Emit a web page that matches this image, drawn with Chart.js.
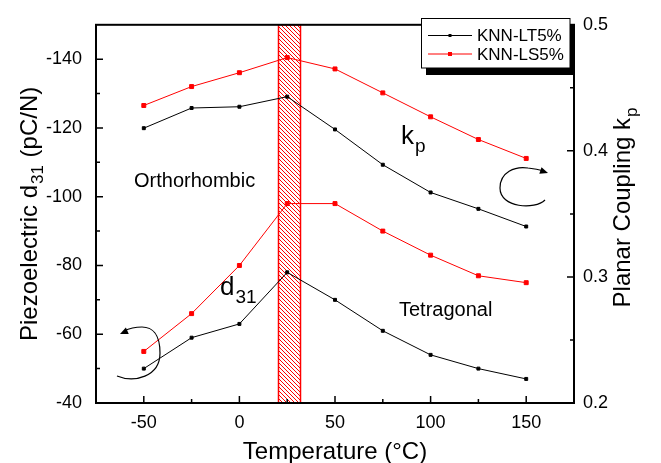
<!DOCTYPE html>
<html>
<head>
<meta charset="utf-8">
<script src="https://cdn.jsdelivr.net/npm/chart.js@4.4.1/dist/chart.umd.min.js"></script>
<style>
  html, body { margin: 0; padding: 0; background: #fff; }
  #c { display: block; }
</style>
</head>
<body>
<canvas id="c" width="661" height="463"></canvas>
<script>
// data
const temps = [-50, -25, 0, 25, 50, 75, 100, 125, 150];
const d31LT = [-50, -59, -63, -78, -70, -61, -54, -50, -47];
const d31LS = [-55, -66, -80, -98, -98, -90, -83, -77, -75];
const kpLT = [0.418, 0.434, 0.435, 0.443, 0.417, 0.389, 0.367, 0.354, 0.340];
const kpLS = [0.436, 0.451, 0.462, 0.474, 0.465, 0.446, 0.427, 0.409, 0.394];
const seriesNames = ['KNN-LT5%', 'KNN-LS5%'];
const seriesColors = ['#000000', '#ff0000'];

// axes
const xTicks = [-50, 0, 50, 100, 150];
const xMinor = [-25, 25, 75, 125];
const leftTicks = [-140, -120, -100, -80, -60, -40];
const leftMinor = [-130, -110, -90, -70, -50];
const rightTicks = [0.2, 0.3, 0.4, 0.5];
const rightMinor = [0.25, 0.35, 0.45];
const bandRange = [20, 32]; // phase transition region

const FONT = '"Liberation Sans", Arial, Helvetica, sans-serif';

const pts = (ys) => temps.map((t, i) => ({ x: t, y: ys[i] }));

function mkSet(label, ys, color, axis, r) {
    return {
        label: label,
        data: pts(ys),
        yAxisID: axis,
        borderColor: color,
        backgroundColor: color,
        borderWidth: 1,
        pointStyle: 'rect',
        pointRadius: r,
        pointHoverRadius: r,
        tension: 0
    };
}

// small tile for the red hatching
function hatchPattern(ctx) {
    const t = document.createElement('canvas');
    t.width = 4; t.height = 4;
    const tc = t.getContext('2d');
    tc.fillStyle = '#ff0000';
    for (let i = 0; i < 4; i++) tc.fillRect(i, i, 1, 1);
    return ctx.createPattern(t, 'repeat');
}

// subscript text helper
function subText(ctx, x, y, main, sub, size, subSize, align) {
    ctx.font = size + 'px ' + FONT;
    const w1 = ctx.measureText(main).width;
    ctx.font = subSize + 'px ' + FONT;
    const w2 = ctx.measureText(sub).width;
    let x0 = x;
    if (align === 'center') x0 = x - (w1 + w2) / 2;
    ctx.textAlign = 'left';
    ctx.textBaseline = 'alphabetic';
    ctx.font = size + 'px ' + FONT;
    ctx.fillText(main, x0, y);
    ctx.font = subSize + 'px ' + FONT;
    ctx.fillText(sub, x0 + w1 + 1, y + size * 0.3);
    return w1 + w2;
}

function arrowHead(ctx, x, y, dx, dy) {
    const len = Math.hypot(dx, dy);
    const ux = dx / len, uy = dy / len;
    const L = 8, W = 3.5;
    ctx.beginPath();
    ctx.moveTo(x, y);
    ctx.lineTo(x - ux * L - uy * W, y - uy * L + ux * W);
    ctx.lineTo(x - ux * L + uy * W, y - uy * L - ux * W);
    ctx.closePath();
    ctx.fill();
}

const decorations = {
    id: 'decorations',
    beforeDatasetsDraw(chart) {
        const ctx = chart.ctx;
        const a = chart.chartArea;
        const xs = chart.scales.x;
        const x1 = Math.round(xs.getPixelForValue(bandRange[0]));
        const x2 = Math.round(xs.getPixelForValue(bandRange[1]));
        ctx.save();
        ctx.fillStyle = hatchPattern(ctx);
        ctx.fillRect(x1, a.top, x2 - x1, a.bottom - a.top);
        ctx.strokeStyle = '#ff0000';
        ctx.lineWidth = 1.5;
        ctx.strokeRect(x1 + 0.5, a.top, x2 - x1 - 1, a.bottom - a.top);
        ctx.restore();
    },
    afterDatasetsDraw(chart) {
        const ctx = chart.ctx;
        const a = chart.chartArea;
        const xs = chart.scales.x, yl = chart.scales.y, yr = chart.scales.y1;
        ctx.save();

        // frame
        ctx.strokeStyle = '#000';
        ctx.lineWidth = 2;
        ctx.strokeRect(a.left, a.top, a.right - a.left, a.bottom - a.top);

        // inward ticks
        ctx.lineWidth = 1.5;
        ctx.beginPath();
        xTicks.forEach(v => { const p = xs.getPixelForValue(v); ctx.moveTo(p, a.bottom); ctx.lineTo(p, a.bottom - 7); });
        xMinor.forEach(v => { const p = xs.getPixelForValue(v); ctx.moveTo(p, a.bottom); ctx.lineTo(p, a.bottom - 4); });
        leftTicks.forEach(v => { const p = yl.getPixelForValue(v); ctx.moveTo(a.left, p); ctx.lineTo(a.left + 7, p); });
        leftMinor.forEach(v => { const p = yl.getPixelForValue(v); ctx.moveTo(a.left, p); ctx.lineTo(a.left + 4, p); });
        rightTicks.forEach(v => { const p = yr.getPixelForValue(v); ctx.moveTo(a.right, p); ctx.lineTo(a.right - 7, p); });
        rightMinor.forEach(v => { const p = yr.getPixelForValue(v); ctx.moveTo(a.right, p); ctx.lineTo(a.right - 4, p); });
        ctx.stroke();

        // annotations
        ctx.fillStyle = '#000';
        ctx.font = '20px ' + FONT;
        ctx.textAlign = 'left';
        ctx.textBaseline = 'alphabetic';
        ctx.fillText('Orthorhombic', 134, 187);
        ctx.fillText('Tetragonal', 399, 316);
        subText(ctx, 401, 144, 'k', 'p', 26, 19, 'left');
        subText(ctx, 220, 295, 'd', '31', 26, 19, 'left');

        // curved arrows
        ctx.lineWidth = 1.2;
        ctx.beginPath();
        ctx.moveTo(117, 376);
        ctx.bezierCurveTo(134, 383, 160, 377, 160, 353);
        ctx.bezierCurveTo(160, 334, 152, 327, 142, 327);
        ctx.quadraticCurveTo(132, 327, 124, 331);
        ctx.stroke();
        arrowHead(ctx, 120, 334, -9, 4);

        ctx.beginPath();
        ctx.moveTo(545, 200);
        ctx.bezierCurveTo(535, 210, 500, 208, 500, 188);
        ctx.bezierCurveTo(500, 172, 515, 166, 528, 168);
        ctx.quadraticCurveTo(537, 169, 544, 171);
        ctx.stroke();
        arrowHead(ctx, 548, 173, 9, 3);

        // legend with drop shadow
        ctx.fillStyle = '#000';
        ctx.fillRect(426, 24, 148, 51);
        ctx.fillStyle = '#fff';
        ctx.fillRect(421.5, 18.5, 148.5, 49.5);
        ctx.lineWidth = 1;
        ctx.strokeStyle = '#000';
        ctx.strokeRect(421.5, 18.5, 148.5, 49.5);
        ctx.font = '17px ' + FONT;
        ctx.textBaseline = 'middle';
        chart.data.datasets.slice(0, 2).forEach((ds, i) => {
            const y = 35.5 + i * 18.5;
            ctx.strokeStyle = ds.borderColor;
            ctx.fillStyle = ds.borderColor;
            ctx.beginPath();
            ctx.moveTo(428, y);
            ctx.lineTo(472, y);
            ctx.stroke();
            const s = i === 0 ? 3 : 4;
            ctx.fillRect(450 - s / 2, y - s / 2, s, s);
            ctx.fillStyle = '#000';
            ctx.fillText(seriesNames[i], 477, y + 1);
        });

        // axis titles
        ctx.fillStyle = '#000';
        ctx.textBaseline = 'alphabetic';
        ctx.font = '24px ' + FONT;
        ctx.textAlign = 'center';
        ctx.fillText('Temperature (°C)', (a.left + a.right) / 2, 459);

        ctx.save();
        ctx.translate(37, (a.top + a.bottom) / 2);
        ctx.rotate(-Math.PI / 2);
        ctx.font = '24px ' + FONT;
        let w1 = ctx.measureText('Piezoelectric d').width;
        ctx.font = '17px ' + FONT;
        let w2 = ctx.measureText('31').width;
        ctx.font = '24px ' + FONT;
        let w3 = ctx.measureText(' (pC/N)').width;
        let x0 = -(w1 + w2 + w3 + 2) / 2;
        ctx.textAlign = 'left';
        ctx.fillText('Piezoelectric d', x0, 0);
        ctx.font = '17px ' + FONT;
        ctx.fillText('31', x0 + w1 + 1, 6);
        ctx.font = '24px ' + FONT;
        ctx.fillText(' (pC/N)', x0 + w1 + w2 + 2, 0);
        ctx.restore();

        ctx.save();
        ctx.translate(630, 208);
        ctx.rotate(-Math.PI / 2);
        subText(ctx, 0, 0, 'Planar Coupling k', 'p', 24, 17, 'center');
        ctx.restore();

        ctx.restore();
    }
};

new Chart(document.getElementById('c'), {
    type: 'line',
    data: {
        datasets: [
            mkSet(seriesNames[0], d31LT, seriesColors[0], 'y', 2.1),
            mkSet(seriesNames[1], d31LS, seriesColors[1], 'y', 2.8),
            mkSet(seriesNames[0], kpLT, seriesColors[0], 'y1', 2.1),
            mkSet(seriesNames[1], kpLS, seriesColors[1], 'y1', 2.8)
        ]
    },
    options: {
        responsive: false,
        animation: false,
        events: [],
        layout: { padding: { top: 18, left: 0, right: 0, bottom: 0 } },
        plugins: { legend: { display: false }, tooltip: { enabled: false } },
        scales: {
            x: {
                type: 'linear',
                min: -75,
                max: 175,
                afterBuildTicks: s => { s.ticks = xTicks.map(v => ({ value: v })); },
                afterFit: s => { s.height = 60; },
                grid: { display: false, drawTicks: false },
                border: { display: false },
                ticks: { color: '#000', padding: 9, font: { family: FONT, size: 18 } }
            },
            y: {
                position: 'left',
                reverse: true,
                min: -150,
                max: -40,
                afterBuildTicks: s => { s.ticks = leftTicks.map(v => ({ value: v })); },
                afterFit: s => { s.width = 96; },
                grid: { display: false, drawTicks: false },
                border: { display: false },
                ticks: { color: '#000', padding: 14, font: { family: FONT, size: 18 } }
            },
            y1: {
                position: 'right',
                min: 0.2,
                max: 0.5,
                afterBuildTicks: s => { s.ticks = rightTicks.map(v => ({ value: v })); },
                afterFit: s => { s.width = 87; },
                grid: { display: false, drawTicks: false },
                border: { display: false },
                ticks: {
                    color: '#000', padding: 9, font: { family: FONT, size: 18 },
                    callback: v => v.toFixed(1)
                }
            }
        }
    },
    plugins: [decorations]
});
</script>
</body>
</html>
